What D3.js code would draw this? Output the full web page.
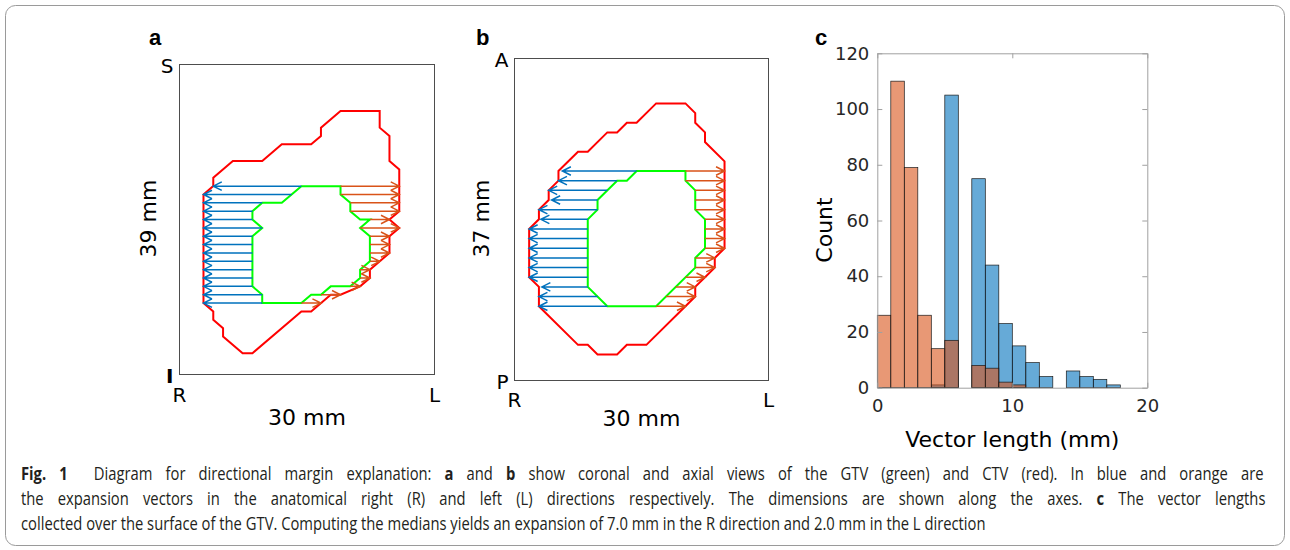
<html>
<head>
<script src="https://d3js.org/d3.v7.min.js"></script>
<style>
  body { margin: 0; background: #fff; }
  text { font-family: "DejaVu Sans", sans-serif; }
  .letter { font-family: "Liberation Sans", Arial, sans-serif; font-weight: bold; font-size: 22px; }
  .caption { font-family: "Open Sans", sans-serif; font-size: 17.5px; fill: #231f20; }
</style>
</head>
<body>
<svg id="fig" width="1290" height="550"></svg>
<script>
// ---- panel a (coronal), contours on voxel grid [column, row]
const ctvA = [[0,1],[1,0],[1,-1],[3,-3],[6,-3],[8,-5],[11,-5],[12,-6],[12,-7],[14,-9],[18,-9],[18,-7],[19,-6],[19,-3],[20,-2],[20,3],[19,4],[20,5],[19,6],[19,8],[17,10],[17,11],[16,12],[14,13],[13,13],[11,15],[10,15],[5,20],[4,20],[2,18],[2,17],[1,16],[1,15],[0,14]];
const gtvA = [[10,0],[14,0],[14,1],[15,2],[15,3],[16,4],[17,4],[16,5],[17,6],[17,9],[16,10],[16,11],[15,12],[13,12],[12,13],[11,13],[10,14],[6,14],[6,13],[5,12],[5,6],[6,5],[5,4],[5,3],[6,2],[8,2]];
// expansion vectors per row 0..14 : [from column, to column]
const rightA = [[10,1],[9,0],[6,0],[5,0],[5,0],[6,0],[5,0],[5,0],[5,0],[5,0],[5,0],[5,0],[5,0],[6,0],[6,0]];
const leftA  = [[14,20],[14,20],[15,20],[15,20],[17,19],[16,20],[17,19],[17,19],[17,19],[17,18],[16,17],[16,17],[15,16],[12,14],[10,12]];

// ---- panel b (axial)
const ctvB = [[0,6],[1,5],[1,4],[2,3],[2,2],[3,1],[3,0],[5,-2],[6,-2],[8,-4],[9,-4],[10,-5],[11,-5],[13,-7],[16,-7],[17,-6],[17,-5],[18,-4],[18,-3],[20,-1],[20,8],[19,9],[19,10],[18,11],[17,12],[17,13],[16,14],[12,18],[10,18],[9,19],[7,19],[6,18],[5,18],[1,14],[1,12],[0,11]];
const gtvB = [[11,0],[16,0],[16,1],[17,2],[17,4],[18,5],[18,8],[17,9],[17,10],[13,14],[8,14],[6,12],[6,5],[7,4],[7,3],[9,1],[10,1]];
const rightB = [[11,3.4],[9,3],[8,2],[7,2.3],[7,1],[6,1.2],[6,0],[6,0],[6,0],[6,0],[6,0],[6,0],[6,1.3],[7,1],[8,1]];
const leftB  = [[16,20],[16,20],[17,20],[17,20],[17,20],[18,20],[18,20],[18,20],[18,20],[17,19],[17,19],[16,18],[15,17],[14,17],[13,16]];

// ---- panel c histogram (1 mm bins)
const binStarts = [0,1,2,3,4,5,6,7,8,9,10,11,12,13,14,15,16,17,18,19];
const countsR = [0,0,0,0,1,105,0,75,44,23,15,9,4,0,6,4,3,1,0,0];
const countsL = [26,110,79,26,14,17,0,8,7,2,1,0,0,0,0,0,0,0,0,0];
const yTicks = [0,20,40,60,80,100,120];
const xTicks = [0,10,20];

const captionLines = [
  [["Fig. 1", true], ["  Diagram for directional margin explanation: ", false], ["a", true], [" and ", false], ["b", true], [" show coronal and axial views of the GTV (green) and CTV (red). In blue and orange are", false]],
  [["the expansion vectors in the anatomical right (R) and left (L) directions respectively. The dimensions are shown along the axes. ", false], ["c", true], [" The vector lengths", false]],
  [["collected over the surface of the GTV. Computing the medians yields an expansion of 7.0 mm in the R direction and 2.0 mm in the L direction", false]]
];
const captionWidths = [1243, 1245, 965];

const BLUE = "#0072BD", ORANGE = "#D95319";
const svg = d3.select("#fig");

svg.append("rect").attr("x", 5.5).attr("y", 5.5).attr("width", 1279).attr("height", 540)
   .attr("rx", 10).attr("fill", "none").attr("stroke", "#9a9a9a");

const panels = [
  {letter:"a", lx:149, ctv:ctvA, gtv:gtvA, right:rightA, left:leftA,
   box:[179.5,64.5,434.5,374.5], cols:[-2.45,23.6], rows:[-14.56,22.55],
   top:"S", bot:"I", botBold:true, side:"39 mm", sideX:148, rlY:402, mmY:425},
  {letter:"b", lx:476, ctv:ctvB, gtv:gtvB, right:rightB, left:leftB,
   box:[514.5,58.5,768.5,380.5], cols:[-1.5,24.5], rows:[-11.65,21.69],
   top:"A", bot:"P", botBold:false, side:"37 mm", sideX:481, rlY:407, mmY:426}
];

function arrowPath(x0, y, x1) {
  const dir = Math.sign(x1 - x0);
  const len = Math.abs(x1 - x0);
  const hl = Math.min(8.5, len * 0.9), hw = hl * 0.5;
  return `M${x0},${y}L${x1},${y}M${x1 - dir*hl},${y-hw}L${x1},${y}L${x1 - dir*hl},${y+hw}`;
}

panels.forEach(p => {
  const [bx0, by0, bx1, by1] = p.box;
  const x = d3.scaleLinear().domain(p.cols).range([bx0, bx1]);
  const y = d3.scaleLinear().domain(p.rows).range([by0, by1]);
  const g = svg.append("g");

  g.append("rect").attr("x", bx0).attr("y", by0).attr("width", bx1-bx0).attr("height", by1-by0)
    .attr("fill", "none").attr("stroke", "#4d4d4d").attr("stroke-width", 1);

  const line = d3.line().x(d => x(d[0])).y(d => y(d[1]));
  g.append("path").attr("d", line(p.ctv) + "Z").attr("fill", "none")
    .attr("stroke", "#ff0000").attr("stroke-width", 2);
  g.append("path").attr("d", line(p.gtv) + "Z").attr("fill", "none")
    .attr("stroke", "#00ff00").attr("stroke-width", 2);

  g.selectAll("path.r").data(p.right).join("path").attr("class", "r")
    .attr("d", (d, i) => arrowPath(x(d[0]), y(i), x(d[1])))
    .attr("fill", "none").attr("stroke", BLUE).attr("stroke-width", 1.5);
  g.selectAll("path.l").data(p.left).join("path").attr("class", "l")
    .attr("d", (d, i) => arrowPath(x(d[0]), y(i), x(d[1])))
    .attr("fill", "none").attr("stroke", ORANGE).attr("stroke-width", 1.5);

  svg.append("text").attr("class", "letter").attr("x", p.lx).attr("y", 45).text(p.letter);
  g.append("text").attr("x", bx0 - 6).attr("y", by0 + 8).attr("text-anchor", "end")
    .style("font-size", "20px").text(p.top);
  g.append("text").attr("x", bx0 - 6).attr("y", by1 + 8).attr("text-anchor", "end")
    .style("font-size", "20px").style("font-weight", p.botBold ? "bold" : "normal").text(p.bot);
  g.append("text").attr("x", bx0).attr("y", p.rlY).attr("text-anchor", "middle")
    .style("font-size", "20px").text("R");
  g.append("text").attr("x", bx1).attr("y", p.rlY).attr("text-anchor", "middle")
    .style("font-size", "20px").text("L");
  g.append("text").attr("x", (bx0 + bx1) / 2).attr("y", p.mmY).attr("text-anchor", "middle")
    .style("font-size", "22px").text("30 mm");
  g.append("text").attr("transform", `translate(${p.sideX},218.5) rotate(-90)`)
    .attr("text-anchor", "middle").attr("dominant-baseline", "central")
    .style("font-size", "22px").text(p.side);
});

// ---- panel c
const xC = d3.scaleLinear().domain([0, 20]).range([877.3, 1147.3]);
const yC = d3.scaleLinear().domain([0, 120]).range([387.7, 53.3]);
const gc = svg.append("g");

function bars(counts, color) {
  gc.append("g").selectAll("rect")
    .data(binStarts.map((b, i) => ({b, v: counts[i]})).filter(d => d.v > 0))
    .join("rect")
    .attr("x", d => xC(d.b)).attr("width", d => xC(d.b + 1) - xC(d.b))
    .attr("y", d => yC(d.v)).attr("height", d => yC(0) - yC(d.v))
    .attr("fill", color).attr("fill-opacity", 0.6)
    .attr("stroke", "#1a1a1a").attr("stroke-width", 0.7);
}
bars(countsR, BLUE);
bars(countsL, ORANGE);

function styleAxis(sel) {
  sel.select(".domain").attr("stroke", "#a0a0a0");
  sel.selectAll(".tick line").attr("stroke", "#a0a0a0");
  sel.selectAll(".tick text").attr("fill", "#262626").style("font-size", "18px")
     .style("font-family", "DejaVu Sans");
}
gc.append("g").attr("transform", `translate(${xC(0)},0)`)
  .call(d3.axisLeft(yC).tickValues(yTicks).tickSizeInner(-5).tickSizeOuter(0).tickPadding(8))
  .call(styleAxis);
gc.append("g").attr("transform", `translate(${xC(20)},0)`)
  .call(d3.axisRight(yC).tickValues(yTicks).tickSizeInner(-5).tickSizeOuter(0).tickFormat(""))
  .call(styleAxis);
gc.append("g").attr("transform", `translate(0,${yC(0)})`)
  .call(d3.axisBottom(xC).tickValues(xTicks).tickSizeInner(-5).tickSizeOuter(0).tickPadding(12))
  .call(styleAxis);
gc.append("g").attr("transform", `translate(0,${yC(120)})`)
  .call(d3.axisTop(xC).tickValues(xTicks).tickSizeInner(-5).tickSizeOuter(0).tickFormat(""))
  .call(styleAxis);

svg.append("text").attr("class", "letter").attr("x", 815).attr("y", 45).text("c");
gc.append("text").attr("transform", "translate(824,230) rotate(-90)")
  .attr("text-anchor", "middle").attr("dominant-baseline", "central")
  .style("font-size", "22px").text("Count");
gc.append("text").attr("x", (xC(0) + xC(20)) / 2).attr("y", 447).attr("text-anchor", "middle")
  .style("font-size", "22px").text("Vector length (mm)");

// ---- caption: condensed glyphs, first two lines justified by word spacing
const capTexts = captionLines.map((parts, i) => {
  const t = svg.append("text").attr("class", "caption").style("white-space", "pre");
  parts.forEach(([s, bold]) => {
    t.append("tspan").style("font-weight", bold ? "bold" : "normal").text(s);
  });
  return t;
});
const naturals = capTexts.map(t => t.node().getComputedTextLength());
const sx = captionWidths[2] / naturals[2];
capTexts.forEach((t, i) => {
  t.attr("transform", `translate(21,${480 + i * 25}) scale(${sx},1)`);
  if (i < 2) {
    const nSpaces = captionLines[i].map(d => d[0]).join("").split(" ").length - 1;
    t.style("word-spacing", ((captionWidths[i] / sx - naturals[i]) / nSpaces) + "px");
  }
});
</script>
</body>
</html>
